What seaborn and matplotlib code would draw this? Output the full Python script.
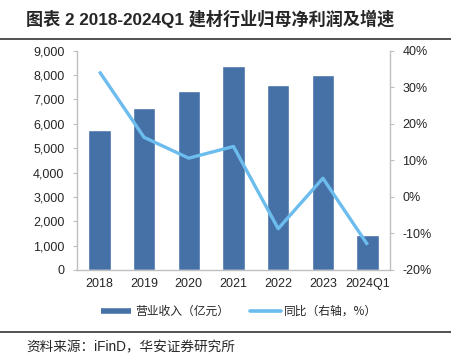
import matplotlib
matplotlib.use("Agg")
import matplotlib.pyplot as plt
import seaborn as sns
import pandas as pd
import numpy as np
from matplotlib.lines import Line2D
from matplotlib.ticker import FuncFormatter

# data
years = ["2018", "2019", "2020", "2021", "2022", "2023", "2024Q1"]
revenue = [5740, 6650, 7340, 8360, 7610, 7990, 1430]       # 亿元
yoy_pct = [34.3, 16.3, 10.6, 13.8, -8.7, 5.1, -13.1]        # %

BAR_COLOR = "#4571A7"
LINE_COLOR = "#6CBDEE"
SPINE_COLOR = "#BFBFBF"

sns.set_style("white")
plt.rcParams["font.family"] = ["Liberation Sans", "Noto Sans CJK SC", "DejaVu Sans"]

df = pd.DataFrame({"year": years, "revenue": revenue, "yoy": yoy_pct})

fig = plt.figure(figsize=(4.51, 3.57), dpi=100)
ax = fig.add_axes([0.1707, 0.2437, 0.6940, 0.6143])

sns.barplot(data=df, x="year", y="revenue", color=BAR_COLOR, width=0.5,
            saturation=1, ax=ax)
ax.set_ylim(0, 9000)
ax.set_xlim(-0.5, len(years) - 0.5)
ax.set_yticks(range(0, 9001, 1000))
ax.yaxis.set_major_formatter(FuncFormatter(lambda v, p: f"{int(v):,}"))
ax.set_xlabel("")
ax.set_ylabel("")

ax2 = ax.twinx()
sns.lineplot(x=np.arange(len(years)), y=df["yoy"], color=LINE_COLOR, linewidth=2.4,
             ax=ax2, solid_capstyle="butt")
ax2.set_ylim(-20, 40)
ax2.set_yticks(range(-20, 41, 10))
ax2.yaxis.set_major_formatter(FuncFormatter(lambda v, p: f"{int(v)}%"))
ax2.set_ylabel("")

for a in (ax, ax2):
    a.spines["top"].set_visible(False)
    for s in a.spines.values():
        s.set_color(SPINE_COLOR)
        s.set_linewidth(1.0)
ax.spines["right"].set_visible(False)
ax2.spines["left"].set_visible(False)
ax2.spines["bottom"].set_visible(False)

ax.tick_params(axis="y", direction="out", length=3, color=SPINE_COLOR,
               labelsize=9, pad=6, left=True)
ax.tick_params(axis="x", length=0, labelsize=9, pad=6)
ax2.tick_params(axis="y", direction="out", length=3, color=SPINE_COLOR,
                labelsize=9, pad=6, right=True)

# legend
handles = [
    Line2D([0], [0], color=BAR_COLOR, linewidth=4, solid_capstyle="butt"),
    Line2D([0], [0], color=LINE_COLOR, linewidth=2.6, solid_capstyle="round"),
]
fig.legend(handles, ["营业收入（亿元）", "同比（右轴，%）"], loc="center",
           bbox_to_anchor=(0.53, 0.128), ncol=2, frameon=False,
           prop={"family": ["Noto Sans CJK SC"], "size": 8.5},
           handlelength=2.6, columnspacing=1.8, handletextpad=0.3)

# title and source
fig.text(0.058, 0.948, "图表 2 2018-2024Q1 建材行业归母净利润及增速",
         fontsize=12.3, fontweight="bold", va="center", ha="left",
         family=["Liberation Sans", "Noto Sans CJK SC", "DejaVu Sans"])
fig.add_artist(Line2D([0, 1], [0.892, 0.892], transform=fig.transFigure,
                      color="#333333", linewidth=1.2))
fig.add_artist(Line2D([0, 1], [0.07, 0.07], transform=fig.transFigure,
                      color="#333333", linewidth=1.2))
fig.text(0.058, 0.028, "资料来源：iFinD，华安证券研究所", fontsize=9.8,
         va="center", ha="left",
         family=["Liberation Sans", "Noto Sans CJK SC", "DejaVu Sans"])

fig.savefig("out.png", dpi=100)
plt.close(fig)
